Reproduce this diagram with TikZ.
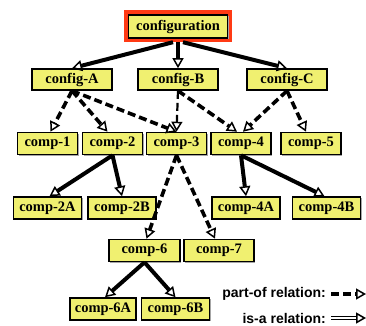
\documentclass[tikz,border=0pt]{standalone}
\usepackage{fontspec}
\setmainfont{Liberation Serif}
\newfontfamily\boxfont{Liberation Serif}
\newfontfamily\legendfont{Liberation Sans}
\usetikzlibrary{arrows.meta,calc,shadows}
\definecolor{boxyellow}{HTML}{F0F070}
\definecolor{framered}{HTML}{FF3A14}
\tikzset{
  box/.style={draw=black, line width=1.6pt, fill=boxyellow, inner sep=0pt,
    minimum height=22pt, font=\boxfont\fontsize{14.5}{16}\selectfont\bfseries,
    drop shadow={shadow xshift=1.2pt, shadow yshift=-1.2pt, fill=black!35, opacity=1}},
  cfgbox/.style={box, minimum width=80pt, minimum height=21pt},
  compbox/.style={box, minimum width=60pt},
  widebox/.style={box, minimum width=68pt},
  hollow/.tip={Triangle[open, length=10pt, width=11pt, line width=1.5pt]},
  isa/.style={line width=4pt, -hollow},
  partof/.style={line width=3.6pt, dash pattern=on 8pt off 4pt, -hollow},
  legendtext/.style={anchor=east, inner sep=0pt,
    font=\legendfont\fontsize{14}{16}\selectfont\bfseries},
}
\begin{document}
\begin{tikzpicture}[x=1pt, y=-1pt]
\useasboundingbox (0,0) rectangle (366,325);

% root with its red frame
\node[fill=framered, minimum width=108pt, minimum height=32pt, inner sep=0pt] (frame) at (178,26) {};
\node[box, minimum width=99pt, minimum height=23pt] (conf) at (178,26.5) {configuration};

% configuration variants
\node[cfgbox] (cfgA) at (72,79.5) {config-A};
\node[cfgbox] (cfgB) at (178,79.5) {config-B};
\node[cfgbox] (cfgC) at (287,79.5) {config-C};

% components
\node[compbox] (c1) at (47.5,143.5) {comp-1};
\node[compbox] (c2) at (112.5,143.5) {comp-2};
\node[compbox] (c3) at (176.5,143.5) {comp-3};
\node[compbox] (c4) at (241,143.5) {comp-4};
\node[compbox] (c5) at (311,143.5) {comp-5};

\node[widebox] (c2A) at (47.5,208) {comp-2A};
\node[widebox] (c2B) at (122,208) {comp-2B};
\node[widebox] (c4A) at (246,208) {comp-4A};
\node[widebox] (c4B) at (326.5,208) {comp-4B};

\node[box, minimum width=71pt] (c6) at (144.5,250.5) {comp-6};
\node[box, minimum width=70pt] (c7) at (219,250.5) {comp-7};

\node[widebox, minimum width=66pt] (c6A) at (103,309) {comp-6A};
\node[widebox] (c6B) at (175.5,309) {comp-6B};

% is-a relations
\draw[isa] ($(frame.south)+(-5,0)$) -- (cfgA.north);
\draw[isa] (frame.south) -- (cfgB.north);
\draw[isa] ($(frame.south)+(5,0)$) -- (cfgC.north);
\draw[isa] (c2.south) -- ($(c2A.north)+(2,0)$);
\draw[isa] (c2.south) -- (c2B.north);
\draw[isa] (c4.south) -- (c4A.north);
\draw[isa] (c4.south) -- ($(c4B.north)+(-2,0)$);
\draw[isa] (c6.south) -- ($(c6A.north)+(2,0)$);
\draw[isa] (c6.south) -- (c6B.north);

% part-of relations
\draw[partof] (cfgA.south) -- ($(c1.north)+(3,0)$);
\draw[partof] (cfgA.south) -- ($(c2.north)+(-5,0)$);
\draw[partof] (cfgA.south) -- (c3.north);
\draw[partof, line width=2.2pt] (cfgB.south) -- (c3.north);
\draw[partof] (cfgB.south) -- ($(c4.north)+(-4,0)$);
\draw[partof] (cfgC.south) -- ($(c4.north)+(2,0)$);
\draw[partof] (cfgC.south) -- ($(c5.north)+(-5,0)$);
\draw[partof] (c3.south) -- ($(c6.north)+(2,0)$);
\draw[partof] (c3.south) -- ($(c7.north)+(-4,0)$);

% legend
\node[legendtext] (lpart) at (326,294) {part-of relation:};
\node[legendtext] (lisa) at (326,318) {is-a relation:};
\coordinate (pa) at (331,294);
\coordinate (pb) at (366,294);
\coordinate (ia) at (331,318);
\coordinate (ib) at (366,318);
\draw[line width=3.6pt, dash pattern=on 8pt off 4pt, -hollow] (pa) -- (pb);
\draw[double, double distance=1.4pt, line width=1.3pt, -hollow] (ia) -- (ib);
\end{tikzpicture}
\end{document}
